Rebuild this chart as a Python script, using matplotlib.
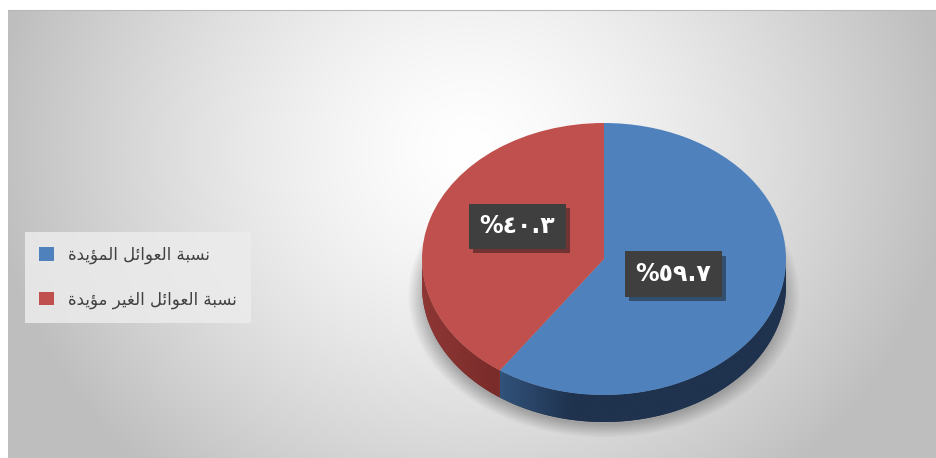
import numpy as np
import matplotlib.pyplot as plt
from matplotlib.patches import Polygon
from matplotlib import patheffects as pe
from matplotlib.colors import to_rgb

labels = ['نسبة العوائل المؤيدة', 'نسبة العوائل الغير مؤيدة']
shares = [59.7, 40.3]
colors = ['#4f81bd', '#c0504d']
side_colors = [('#31527a', '#1f324e'), ('#8e3735', '#7a2c2a')]

# isolated, final, initial, medial presentation forms
FORMS = {
    'ا': ('\uFE8D', '\uFE8E', None, None),
    'ب': ('\uFE8F', '\uFE90', '\uFE91', '\uFE92'),
    'ة': ('\uFE93', '\uFE94', None, None),
    'د': ('\uFEA9', '\uFEAA', None, None),
    'ر': ('\uFEAD', '\uFEAE', None, None),
    'س': ('\uFEB1', '\uFEB2', '\uFEB3', '\uFEB4'),
    'ع': ('\uFEC9', '\uFECA', '\uFECB', '\uFECC'),
    'غ': ('\uFECD', '\uFECE', '\uFECF', '\uFED0'),
    'ل': ('\uFEDD', '\uFEDE', '\uFEDF', '\uFEE0'),
    'م': ('\uFEE1', '\uFEE2', '\uFEE3', '\uFEE4'),
    'ن': ('\uFEE5', '\uFEE6', '\uFEE7', '\uFEE8'),
    'و': ('\uFEED', '\uFEEE', None, None),
    'ي': ('\uFEF1', '\uFEF2', '\uFEF3', '\uFEF4'),
    'ئ': ('\uFE89', '\uFE8A', '\uFE8B', '\uFE8C'),
    'ؤ': ('\uFE85', '\uFE86', None, None),
}


def shape_arabic(text):
    # matplotlib has no shaping, so pick joined forms and reverse for RTL
    out = []
    for i, c in enumerate(text):
        if c not in FORMS:
            out.append(c)
            continue
        prev = text[i - 1] if i > 0 else ''
        nxt = text[i + 1] if i + 1 < len(text) else ''
        iso, fin, ini, med = FORMS[c]
        jp = prev in FORMS and FORMS[prev][2] is not None
        jn = nxt in FORMS and ini is not None
        if jp and jn:
            out.append(med)
        elif jp:
            out.append(fin)
        elif jn:
            out.append(ini)
        else:
            out.append(iso)
    return ''.join(reversed(out))


def pct_label(v):
    s = f'{v:.1f}'.translate(str.maketrans('0123456789', '٠١٢٣٤٥٦٧٨٩'))
    return '%' + s


W, H = 936, 458
fig = plt.figure(figsize=(W / 100, H / 100), dpi=100)

# chart panel with radial grey gradient
bg = fig.add_axes([8 / W, 0, 1, (H - 10) / H])
yy, xx = np.mgrid[0:448, 0:928]
d = np.sqrt(((xx - 462) / 465) ** 2 + ((yy - 140) / 420) ** 2)
shade = np.clip(255 - 62 * d ** 1.4, 190, 255) / 255
bg.imshow(np.dstack([shade] * 3), aspect='auto', extent=(0, 928, 448, 0))
bg.set_xlim(0, 936)
bg.set_xticks([])
bg.set_yticks([])
for s in ['left', 'right', 'bottom']:
    bg.spines[s].set_visible(False)
bg.spines['top'].set_color('#b8b8b8')

# pie axes, scaled so the top face is an ellipse
cx, cy, sx, sy = 604, 259, 182, 136
depth = 27 / sy
left, top, right, bottom = 380, 100, 830, 452
ax = fig.add_axes([left / W, 1 - bottom / H, (right - left) / W, (bottom - top) / H])
ax.patch.set_alpha(0)
xlim = ((left - cx) / sx, (right - cx) / sx)
ylim = ((cy - bottom) / sy, (cy - top) / sy)

wedges, _ = ax.pie(shares, colors=colors, startangle=90, counterclock=False,
                   wedgeprops=dict(linewidth=0, zorder=3))

# soft shadow under the disc
gy, gx = np.mgrid[ylim[0]:ylim[1]:300j, xlim[0]:xlim[1]:400j]
dd = np.hypot(gx / 1.03, (gy + depth + 0.07) / 1.0)
sh = np.zeros(gx.shape + (4,))
sh[..., :3] = 0.45
sh[..., 3] = 0.55 * np.clip((1.05 - dd) / 0.1, 0, 1)
ax.imshow(sh, extent=(*xlim, *ylim), origin='lower', aspect='auto', zorder=1)

# side walls on the front half of the disc
for w, (c0, c1) in zip(wedges, side_colors):
    t1, t2 = sorted((w.theta1, w.theta2))
    for k in (-360, 0, 360):
        lo, hi = max(t1, -180 + k), min(t2, k)
        if lo >= hi:
            continue
        t = np.radians(np.linspace(lo, hi, 100))
        pts = np.vstack([np.column_stack([np.cos(t), np.sin(t)]),
                         np.column_stack([np.cos(t), np.sin(t) - depth])[::-1]])
        poly = Polygon(pts, closed=True, facecolor=c1, edgecolor='none', zorder=2)
        ax.add_patch(poly)
        x0, x1 = pts[:, 0].min(), pts[:, 0].max()
        fx = np.clip((np.linspace(x0, x1, 200) - x0) / 0.4, 0, 1)
        a, b = np.array(to_rgb(c0)), np.array(to_rgb(c1))
        grad = (a[None, :] * (1 - fx[:, None]) + b[None, :] * fx[:, None])[None, :, :]
        im = ax.imshow(grad, extent=(x0, x1, pts[:, 1].min(), pts[:, 1].max()),
                       aspect='auto', zorder=2.5)
        im.set_clip_path(poly)

# value labels
plt.rcParams['hatch.color'] = '#4c4c4c'
label_r = [0.40, 0.50]
label_dy = [0.01, 0.09]
for w, v, r, dy in zip(wedges, shares, label_r, label_dy):
    tm = np.radians((w.theta1 + w.theta2) / 2)
    t = ax.text(r * np.cos(tm), r * np.sin(tm) + dy, pct_label(v),
                ha='center', va='center', color='white', fontsize=17,
                fontweight='bold', zorder=6,
                bbox=dict(boxstyle='square,pad=0.45', facecolor='#3f3f3f',
                          edgecolor='none', hatch='..', linewidth=0))
    t.get_bbox_patch().set_path_effects([pe.SimplePatchShadow(offset=(3, -3), alpha=0.45),
                                         pe.Normal()])

ax.set_aspect('auto')
ax.set_xlim(*xlim)
ax.set_ylim(*ylim)
ax.axis('off')

leg = fig.legend(wedges, [shape_arabic(l) for l in labels], loc='upper left',
                 bbox_to_anchor=(25 / W, 1 - 232 / H), borderaxespad=0,
                 fontsize=12, handlelength=0.9, handleheight=0.9,
                 labelspacing=1.55, borderpad=0.85, handletextpad=0.8,
                 fancybox=False)
leg.get_frame().set_facecolor('#ececec')
leg.get_frame().set_edgecolor('none')
leg.get_frame().set_alpha(0.85)
for txt in leg.get_texts():
    txt.set_color('#404040')

fig.savefig('out.png', dpi=100)
